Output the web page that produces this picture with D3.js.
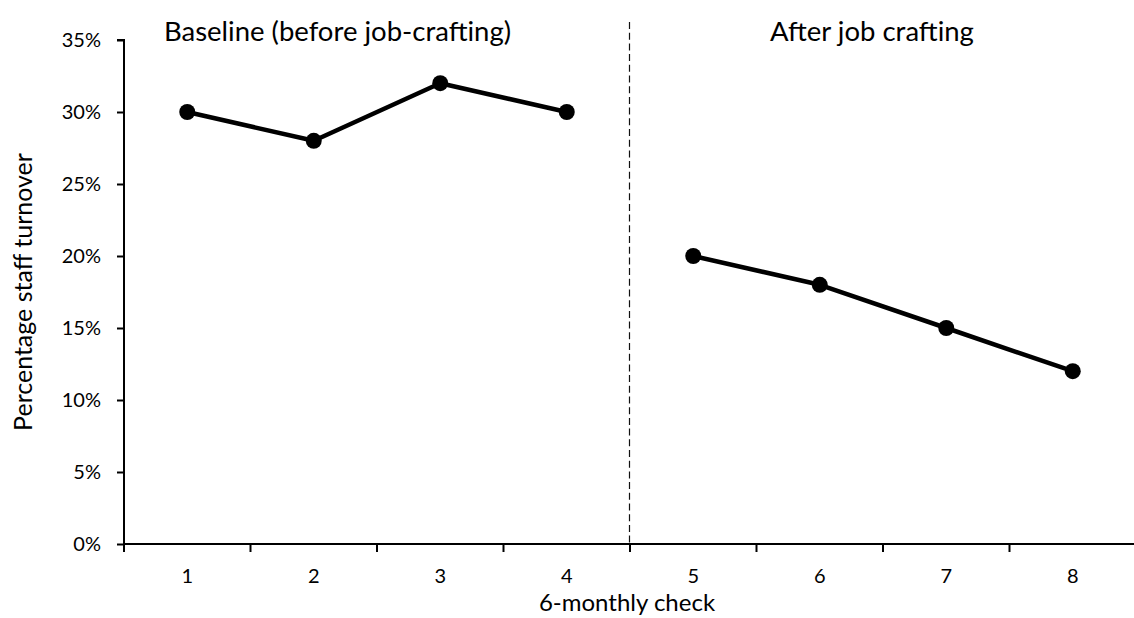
<!DOCTYPE html>
<html><head><meta charset="utf-8">
<script src="https://cdn.jsdelivr.net/npm/d3@7"></script>
<style>body{margin:0;background:#fff}svg{display:block}text{font-family:Lato,"Open Sans",sans-serif;fill:#000}</style>
</head><body><svg id="c" width="1134" height="618"></svg>
<script>
const checks = ["1","2","3","4","5","6","7","8"];
const baseline = [30, 28, 32, 30];
const after = [20, 18, 15, 12];
const yTicks = [0, 5, 10, 15, 20, 25, 30, 35];
const baselineChecks = checks.slice(0, 4);
const afterChecks = checks.slice(4);
const phaseLabels = ["Baseline (before job-crafting)", "After job crafting"];

const svg = d3.select("#c");
const mL = 124, mR = 1136, mT = 40, mB = 544;
const x = d3.scaleBand().domain(checks).range([mL, mR]);
const y = d3.scaleLinear().domain([0, 35]).range([mB, mT]);

// Phase divider
const divX = Math.round(x(afterChecks[0])) - 0.5;
svg.append("line").attr("x1", divX).attr("x2", divX).attr("y1", 22).attr("y2", mB)
  .attr("stroke", "#111").attr("stroke-width", 1.2).attr("stroke-dasharray", "7,3.7");

// Y axis
const ya = svg.append("g").attr("transform", `translate(${mL},0)`)
  .call(d3.axisLeft(y).tickValues(yTicks).tickFormat(d => d + "%").tickSize(7).tickPadding(16));
ya.select(".domain").attr("stroke-width", 2).attr("d", `M-7,${mT}H0V${mB}`);
ya.selectAll(".tick line").attr("stroke-width", 2);
ya.selectAll(".tick text").attr("font-size", null).attr("font-family", null).style("font-size", "20px");

// X axis
const xa = svg.append("g").attr("transform", `translate(0,${mB})`)
  .call(d3.axisBottom(x).tickSize(0));
xa.select(".domain").attr("stroke-width", 2).attr("d", `M${mL},0H${mR}`);
xa.selectAll(".tick text").attr("font-size", null).attr("font-family", null)
  .style("font-size", "20px").attr("y", 39).attr("dy", 0);
const bounds = checks.map(c => x(c)).concat([x(checks[checks.length-1]) + x.bandwidth()]);
xa.selectAll("line.bt").data(bounds).enter().append("line").attr("class","bt")
  .attr("x1", d => d).attr("x2", d => d).attr("y1", 0).attr("y2", 8)
  .attr("stroke", "#000").attr("stroke-width", 2);

const cx = c => x(c) + x.bandwidth() / 2;
const line = d3.line().x(d => cx(d[0])).y(d => y(d[1]));
[[baselineChecks, baseline], [afterChecks, after]].forEach(([cs, vs]) => {
  const pts = cs.map((c, i) => [c, vs[i]]);
  svg.append("path").datum(pts).attr("d", line).attr("fill", "none")
    .attr("stroke", "#000").attr("stroke-width", 4.5).attr("stroke-linejoin", "round");
  svg.selectAll(null).data(pts).enter().append("circle")
    .attr("cx", d => cx(d[0])).attr("cy", d => y(d[1])).attr("r", 8).attr("fill", "#000");
});

// Phase labels
svg.append("text").attr("x", 337.5).attr("y", 41).attr("text-anchor", "middle")
  .style("font-size", "27.5px").text(phaseLabels[0]);
svg.append("text").attr("x", 872).attr("y", 41).attr("text-anchor", "middle")
  .style("font-size", "27.5px").text(phaseLabels[1]);

// Axis titles
svg.append("text").attr("x", 627).attr("y", 611).attr("text-anchor", "middle")
  .style("font-size", "24px").text("6-monthly check");
svg.append("text").attr("transform", `translate(32,292) rotate(-90)`)
  .attr("text-anchor", "middle").style("font-size", "25px").text("Percentage staff turnover");
</script></body></html>
